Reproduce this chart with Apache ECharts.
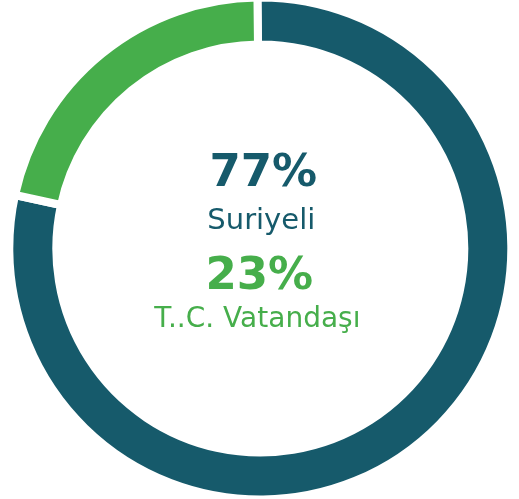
<!DOCTYPE html>
<html>
<head>
<meta charset="utf-8">
<script src="https://cdn.jsdelivr.net/npm/echarts@6/dist/echarts.min.js"></script>
<style>html,body{margin:0;padding:0;background:#fff;}#c{width:519px;height:499px;}</style>
</head>
<body>
<div id="c"></div>
<script>
// Data
const categories = ["Suriyeli", "T..C. Vatandaşı"];
const shares = [78.6, 21.4];          // arc sizes as drawn
const percentLabels = ["77%", "23%"]; // printed percentages
const colors = ["#165a6b", "#46ae4b"];

const chart = echarts.init(document.getElementById('c'), null, {renderer: 'canvas'});
const cx = 260.3, cy = 248.5;

chart.setOption({
  animation: false,
  series: [{
    type: 'pie',
    center: [cx, cy],
    radius: [204, 251],
    startAngle: 90.65,
    clockwise: true,
    label: {show: false},
    labelLine: {show: false},
    emphasis: {disabled: true},
    itemStyle: {borderColor: '#ffffff', borderWidth: 8},
    data: categories.map((n, i) => ({name: n, value: shares[i], itemStyle: {color: colors[i]}}))
  }],
  graphic: [
    {type: 'text', x: cx + 3, y: 174, style: {text: percentLabels[0], font: 'bold 45px "DejaVu Sans"', fill: colors[0], align: 'center', verticalAlign: 'middle'}},
    {type: 'text', x: cx + 1, y: 221, style: {text: categories[0], font: '29px "DejaVu Sans"', fill: colors[0], align: 'center', verticalAlign: 'middle'}},
    {type: 'text', x: cx - 1, y: 277, style: {text: percentLabels[1], font: 'bold 45px "DejaVu Sans"', fill: colors[1], align: 'center', verticalAlign: 'middle'}},
    {type: 'text', x: cx - 3, y: 320, style: {text: categories[1], font: '28px "DejaVu Sans"', fill: colors[1], align: 'center', verticalAlign: 'middle'}}
  ]
});
</script>
</body>
</html>
